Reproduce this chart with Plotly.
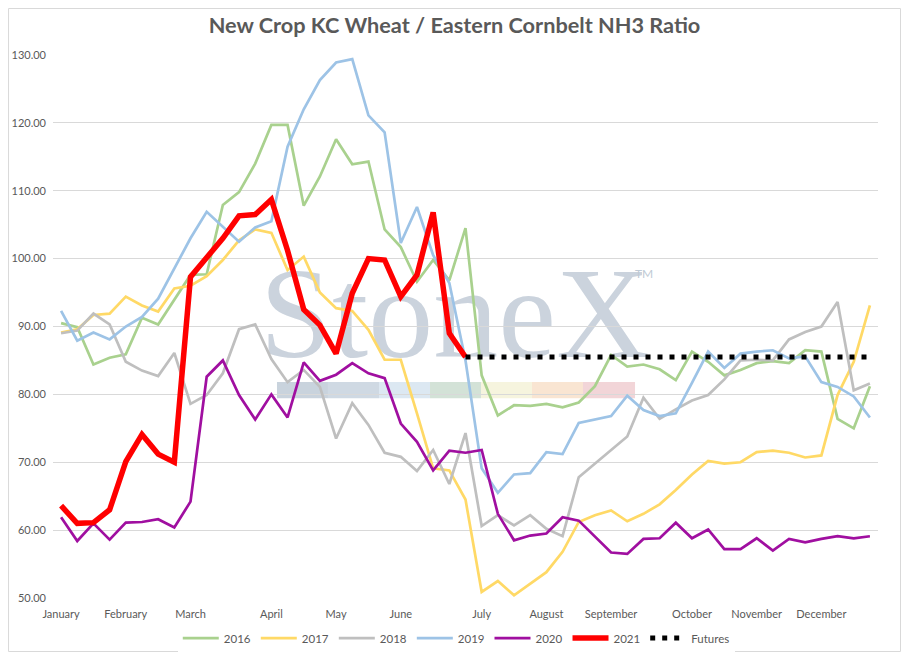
import plotly.graph_objects as go

# weekly points, January through December
weeks = list(range(51))
month_weeks = [0, 4, 8, 13, 17, 21, 26, 30, 34, 39, 43, 47]
month_names = ["January", "February", "March", "April", "May", "June",
               "July", "August", "September", "October", "November", "December"]

y2016 = [90.5, 89.9, 84.4, 85.4, 85.9, 91.3, 90.3, 93.9, 97.6, 97.7,
         107.9, 109.8, 114.0, 119.7, 119.7, 107.8, 112.1, 117.6, 113.9, 114.3,
         104.3, 101.7, 96.6, 99.8, 96.8, 104.5, 82.8, 76.9, 78.4, 78.3,
         78.6, 78.1, 78.8, 81.2, 85.8, 84.1, 84.4, 83.7, 82.1, 86.3,
         84.8, 82.8, 83.6, 84.6, 84.9, 84.6, 86.5, 86.3, 76.4, 75.0, 81.2]
y2017 = [89.1, 89.6, 91.7, 91.9, 94.4, 93.1, 92.2, 95.6, 96.0, 97.4,
         99.8, 102.7, 104.3, 103.8, 98.3, 100.3, 95.0, 92.7, 92.3, 89.5,
         85.1, 85.1, 77.2, 69.1, 68.8, 64.5, 50.9, 52.5, 50.4, 52.1,
         53.8, 56.8, 61.2, 62.2, 62.9, 61.3, 62.4, 63.8, 65.9, 68.2,
         70.2, 69.8, 70.0, 71.5, 71.7, 71.4, 70.7, 71.0, 79.9, 84.8, 93.1]
y2018 = [89.0, 89.4, 91.9, 90.3, 84.8, 83.5, 82.7, 86.1, 78.6, 79.9,
         83.1, 89.6, 90.3, 85.2, 81.8, 83.6, 81.1, 73.5, 78.7, 75.5,
         71.4, 70.8, 68.7, 71.8, 66.8, 74.3, 60.6, 62.2, 60.7, 62.2,
         60.2, 59.1, 67.8, 69.8, 71.9, 73.8, 79.5, 76.4, 77.8, 79.1,
         79.9, 82.2, 85.0, 85.1, 85.0, 88.1, 89.2, 90.0, 93.6, 80.6, 81.6]
y2019 = [92.3, 87.9, 89.1, 88.1, 90.0, 91.4, 94.1, 98.6, 103.0, 106.9,
         104.7, 102.5, 104.6, 105.5, 116.5, 122.0, 126.3, 128.9, 129.4, 121.1,
         118.6, 102.3, 107.6, 100.5, 96.4, 85.0, 69.1, 65.5, 68.2, 68.4,
         71.5, 71.2, 75.8, 76.3, 76.8, 79.8, 77.7, 76.8, 77.2, 81.7,
         86.3, 83.9, 86.0, 86.3, 86.5, 85.3, 85.6, 81.8, 81.1, 79.7, 76.6]
y2020 = [61.9, 58.4, 61.0, 58.6, 61.1, 61.2, 61.6, 60.4, 64.2, 82.6,
         85.0, 79.9, 76.3, 80.0, 76.6, 84.7, 82.0, 82.9, 84.6, 83.1,
         82.4, 75.7, 73.0, 68.8, 71.7, 71.4, 71.8, 62.4, 58.5, 59.2,
         59.5, 61.9, 61.4, 59.0, 56.7, 56.5, 58.7, 58.8, 61.1, 58.8,
         60.1, 57.2, 57.2, 58.8, 57.0, 58.7, 58.2, 58.7, 59.1, 58.8, 59.1]
y2021 = [63.6, 61.0, 61.1, 63.0, 70.1, 74.1, 71.2, 70.0, 97.3, 100.0,
         103.0, 106.3, 106.5, 108.7, 101.2, 92.5, 90.2, 86.0, 94.9, 100.0,
         99.8, 94.4, 97.6, 106.8, 89.0, 85.5]
futures_weeks = [25, 50]
futures = [85.5, 85.5]

series = [
    ("2016", y2016, "#A9D18E", 2.7),
    ("2017", y2017, "#FFD966", 2.7),
    ("2018", y2018, "#BFBFBF", 2.7),
    ("2019", y2019, "#9DC3E6", 2.7),
    ("2020", y2020, "#A00FA0", 2.7),
    ("2021", y2021, "#FF0000", 5.5),
]

fig = go.Figure()
for name, vals, col, w in series:
    fig.add_trace(go.Scatter(x=weeks[:len(vals)], y=vals, name=name, mode="lines",
                             line=dict(color=col, width=w)))
fig.add_trace(go.Scatter(x=futures_weeks, y=futures, name="Futures", mode="lines",
                         line=dict(color="black", width=5, dash="5px,7px")))

grey = "#595959"
# StoneX watermark (sits under the lines)
shapes = [dict(type="rect", xref="paper", yref="paper", x0=0.247, x1=0.727, y0=0.43, y1=0.67,
               line=dict(width=0), fillcolor="rgba(0,0,0,0)", layer="below",
               label=dict(text="StoneX", textposition="middle center",
                          font=dict(family="Liberation Serif", size=130, color="#CBD3DD")))]
bar_x = [0.2715, 0.3333, 0.3952, 0.4570, 0.5188, 0.5806, 0.6424, 0.7055]
bar_cols = ["#C9D3DD", "#CFD9E3", "#DCE8F2", "#D3E2D7", "#F6F4DE", "#F9E5D2", "#F2D5D8"]
for i, c in enumerate(bar_cols):
    shapes.append(dict(type="rect", xref="paper", yref="paper", x0=bar_x[i], x1=bar_x[i + 1],
                       y0=0.368, y1=0.398, line=dict(width=0), fillcolor=c, layer="below"))
# outer chart border
shapes.append(dict(type="rect", xref="paper", yref="paper", x0=-0.0539, x1=1.0273,
                   y0=-0.0985, y1=1.0856, line=dict(color="#D9D9D9", width=1)))

# page body has an 8px margin, so the figure is 16px smaller than the window
fig.update_layout(
    width=893, height=644,
    margin=dict(l=45, r=23, t=47, b=54),
    paper_bgcolor="white", plot_bgcolor="white",
    font=dict(family="Lato", size=11, color=grey),
    title=dict(text="New Crop KC Wheat / Eastern Cornbelt NH3 Ratio",
               font=dict(family="Lato", size=21.7, color=grey, weight="bold"),
               x=0.5, xanchor="center", y=0.9736, yanchor="middle", yref="container"),
    showlegend=True,
    legend=dict(orientation="h", xref="container", yref="container",
                x=0.502, xanchor="center", y=0.0217, yanchor="middle",
                font=dict(size=11.5, color=grey), itemwidth=36),
    shapes=shapes,
    annotations=[dict(text="TM", xref="paper", yref="paper", x=0.73, y=0.598, showarrow=False,
                      font=dict(size=12, color="#C0CAD5"))],
    hovermode=False,
)
fig.update_xaxes(range=[-0.5, 50.5], tickvals=month_weeks, ticktext=month_names,
                 showgrid=False, zeroline=False, showline=False, ticks="", automargin=False,
                 ticklabelstandoff=8)
fig.update_yaxes(range=[50, 130], dtick=10, tickformat=".2f", showgrid=True,
                 gridcolor="#D9D9D9", gridwidth=1, zeroline=False, showline=False,
                 ticks="", ticklabelstandoff=6, automargin=False)

fig.write_html("out.html")
